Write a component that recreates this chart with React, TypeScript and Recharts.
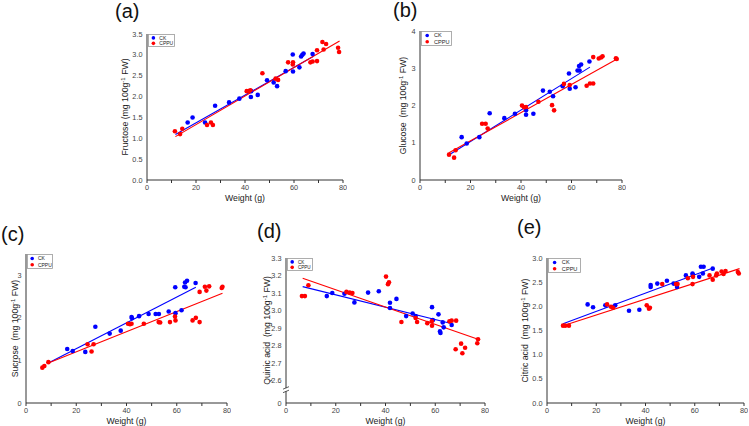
import { ScatterChart, Scatter, XAxis, YAxis, ReferenceLine, ReferenceDot } from "recharts";

type Pt = [number, number];

// weight (g) vs content
const fructoseCK: Pt[] = [
  [16.6, 1.38], [18.6, 1.5], [23.7, 1.38], [27.8, 1.78], [33.5, 1.86], [37.7, 1.95], [42.4, 1.99], [42.5, 2.13],
  [45.2, 2.04], [49.0, 2.39], [51.7, 2.34], [53.1, 2.25], [56.6, 2.61], [59.5, 3.01], [59.6, 2.6], [62.2, 2.7],
  [62.9, 2.96], [63.4, 3.0], [63.9, 3.03], [67.6, 3.02],
];
const fructoseCPPU: Pt[] = [
  [11.4, 1.17], [13.5, 1.1], [14.4, 1.23], [24.5, 1.32], [26.1, 1.38], [26.9, 1.32], [40.7, 2.13], [41.6, 2.13],
  [42.2, 2.15], [47.1, 2.56], [52.5, 2.43], [53.5, 2.4], [57.6, 2.82], [59.5, 2.77], [59.6, 2.82], [66.7, 2.82],
  [67.6, 2.84], [69.4, 2.85], [69.4, 3.11], [71.6, 3.31], [72.1, 3.13], [73.1, 3.26], [78.0, 3.17], [78.4, 3.07],
];
const fructoseFitCK: Pt[] = [[11.6, 1.09], [67.8, 2.96]];
const fructoseFitCPPU: Pt[] = [[11.6, 1.04], [78.6, 3.33]];

const glucoseCK: Pt[] = [
  [16.5, 1.15], [18.5, 0.98], [23.5, 1.15], [27.6, 1.79], [33.4, 1.66], [37.6, 1.78], [42.0, 1.87], [42.0, 1.75],
  [44.9, 1.78], [48.7, 2.4], [51.4, 2.37], [52.7, 2.25], [56.5, 2.52], [59.0, 2.86], [59.3, 2.45], [61.6, 2.49],
  [62.4, 2.94], [63.0, 3.06], [63.2, 2.94], [63.8, 3.1], [67.1, 3.18],
];
const glucoseCPPU: Pt[] = [
  [11.5, 0.68], [13.5, 0.6], [14.1, 0.8], [24.6, 1.51], [26.0, 1.51], [26.8, 1.38], [40.4, 2.0], [41.2, 1.95],
  [42.0, 1.96], [46.9, 2.1], [52.3, 2.01], [53.1, 1.87], [57.0, 2.58], [59.3, 2.55], [66.0, 2.53], [67.3, 2.59],
  [68.6, 2.59], [68.6, 3.3], [70.8, 3.26], [71.7, 3.29], [72.3, 3.32], [77.6, 3.27], [77.9, 3.25],
];
const glucoseFitCK: Pt[] = [[11.9, 0.69], [67.3, 3.03]];
const glucoseFitCPPU: Pt[] = [[11.5, 0.73], [78.4, 3.26]];

const sucroseCK: Pt[] = [
  [16.4, 1.27], [18.6, 1.22], [23.6, 1.2], [27.6, 1.79], [33.3, 1.63], [37.7, 1.7], [42.0, 2.02], [42.2, 1.99],
  [45.0, 2.04], [48.8, 2.09], [51.6, 2.09], [52.9, 2.09], [56.8, 2.15], [59.4, 2.72], [59.5, 2.11], [61.9, 2.18],
  [63.0, 2.73], [63.3, 2.83], [63.5, 2.72], [64.1, 2.87], [67.5, 2.82],
];
const sucroseCPPU: Pt[] = [
  [6.5, 0.83], [7.3, 0.87], [8.9, 0.96], [24.5, 1.38], [26.1, 1.21], [26.9, 1.38], [40.6, 1.86], [41.4, 1.85],
  [42.0, 1.86], [46.9, 1.86], [52.8, 1.9], [53.4, 1.89], [57.3, 1.9], [59.3, 2.03], [59.5, 1.94], [66.3, 1.94],
  [67.6, 2.0], [69.1, 1.9], [69.1, 2.61], [71.2, 2.73], [71.8, 2.64], [72.9, 2.74], [77.9, 2.7], [78.2, 2.73],
];
const sucroseFitCK: Pt[] = [[8.9, 0.94], [67.6, 2.72]];
const sucroseFitCPPU: Pt[] = [[8.9, 0.94], [78.2, 2.58]];

const quinicCK: Pt[] = [
  [16.4, 3.083], [18.6, 3.101], [23.5, 3.096], [27.5, 3.047], [33.0, 3.103], [37.3, 3.111], [41.8, 3.045],
  [41.8, 3.015], [44.4, 3.067], [48.3, 2.969], [50.9, 2.984], [52.1, 2.969], [58.7, 3.02], [59.0, 2.946],
  [61.3, 2.979], [61.9, 2.882], [62.1, 2.873], [63.0, 2.933], [63.4, 2.905], [66.6, 2.918],
];
const quinicCPPU: Pt[] = [
  [6.4, 3.083], [7.6, 3.083], [9.0, 3.145], [24.3, 3.107], [25.6, 3.103], [26.7, 3.101], [40.2, 3.194],
  [41.0, 3.151], [41.4, 3.162], [46.4, 2.935], [52.1, 2.958], [52.7, 2.935], [56.8, 2.929], [58.6, 2.939],
  [58.7, 2.914], [65.7, 2.939], [66.6, 2.943], [68.4, 2.943], [68.2, 2.78], [70.4, 2.812], [70.9, 2.757],
  [72.0, 2.789], [76.9, 2.814], [77.2, 2.837],
];
const quinicFitCK: Pt[] = [[6.7, 3.137], [66.0, 2.928]];
const quinicFitCPPU: Pt[] = [[6.7, 3.185], [77.2, 2.837]];

const citricCK: Pt[] = [
  [16.5, 2.04], [18.7, 1.98], [23.7, 2.02], [27.7, 2.02], [33.3, 1.91], [37.5, 1.93], [42.1, 2.44], [42.1, 2.4],
  [44.8, 2.47], [48.7, 2.53], [51.4, 2.47], [52.8, 2.4], [56.4, 2.64], [59.1, 2.68], [59.2, 2.65], [61.8, 2.61],
  [62.5, 2.82], [63.3, 2.68], [63.6, 2.82], [67.3, 2.78],
];
const citricCPPU: Pt[] = [
  [6.5, 1.6], [7.4, 1.6], [8.9, 1.6], [24.4, 2.04], [26.0, 1.99], [26.8, 1.97], [40.5, 2.02], [41.4, 1.95],
  [41.8, 1.97], [46.8, 2.46], [52.4, 2.46], [53.0, 2.46], [57.2, 2.58], [59.1, 2.46], [59.3, 2.61], [66.0, 2.64],
  [67.3, 2.55], [68.7, 2.64], [69.0, 2.68], [70.9, 2.72], [71.7, 2.67], [72.5, 2.73], [77.5, 2.71], [77.9, 2.68],
];
const citricFitCK: Pt[] = [[6.5, 1.64], [67.7, 2.8]];
const citricFitCPPU: Pt[] = [[6.5, 1.6], [78.2, 2.78]];

const xMajor = [0, 20, 40, 60, 80];
const xMinor = [10, 30, 50, 70];
const seriesNames = ["CK", "CPPU"];

const FONT = '"Liberation Sans", Arial, Helvetica, sans-serif';
const BLUE = "#0000ff";
const RED = "#ff0000";
const AXIS = "#333";
const TICK_FS = 7.3;

const toPts = (arr: Pt[]) => arr.map(([w, v]) => ({ w, v }));
const dot = (color: string) => (p: any) => <circle cx={p.cx} cy={p.cy} r={2.3} fill={color} />;

function LegendBox({ w, h, fs }: any) {
  const colors = [BLUE, RED];
  return (
    <svg width={w} height={h} style={{ position: "absolute", left: 41, top: 6 }}>
      <rect x={0.5} y={0.5} width={w - 1} height={h - 1} fill="#fff" stroke="#999" strokeWidth={0.8} />
      {seriesNames.map((name, i) => (
        <g key={name}>
          <circle cx={w * 0.2} cy={h * (0.3 + 0.42 * i)} r={1.8} fill={colors[i]} />
          <text x={w * 0.42} y={h * (0.3 + 0.42 * i) + fs * 0.35} fontSize={fs} fontFamily={FONT} fill="#222">
            {name}
          </text>
        </g>
      ))}
    </svg>
  );
}

function Panel({ cfg }: { cfg: any }) {
  const { plot, yDomain, yMajor, yMinor, yFmt, yName, yOff, ck, cppu, fitCK, fitCPPU, legend, brk } = cfg;
  const left = plot.l - 40;
  const top = plot.t - 6;
  const width = plot.r - plot.l + 44;
  const height = plot.b - plot.t + 34;
  const yTicks = [...yMajor, ...yMinor].sort((a: number, b: number) => a - b);

  const xTick = (p: any) => {
    const v = p.payload.value;
    const lbl = xMajor.includes(v) ? String(v) : "";
    return (
      <text x={p.x} y={p.y + 5.5} textAnchor="middle" fontSize={TICK_FS} fontFamily={FONT} fill="#444">
        {lbl}
      </text>
    );
  };

  // y tick labels drawn at each major value through the chart's y scale
  const yTickLabel = (v: number) => (props: any) => {
    const vb = props.viewBox;
    return (
      <text x={vb.x - 4.5} y={vb.y + 2.6} textAnchor="end" fontSize={TICK_FS} fontFamily={FONT} fill="#444">
        {yFmt(v)}
      </text>
    );
  };

  const yLabel = (props: any) => {
    const vb = props.viewBox;
    const cx = vb.x + vb.width - yOff;
    const cy = vb.y + vb.height / 2;
    return (
      <text x={cx} y={cy + 3} transform={`rotate(-90 ${cx} ${cy})`} textAnchor="middle" fontSize={8.7} fontFamily={FONT} fill="#222">
        {yName}(mg 100g
        <tspan dy={-3} fontSize={6}>-1</tspan>
        <tspan dy={3}> FW)</tspan>
      </text>
    );
  };

  const xLabel = (props: any) => {
    const vb = props.viewBox;
    return (
      <text x={vb.x + vb.width / 2} y={vb.y + 21} textAnchor="middle" fontSize={8.7} fontFamily={FONT} fill="#222">
        Weight (g)
      </text>
    );
  };

  return (
    <div style={{ position: "absolute", left, top, width, height }}>
      <ScatterChart width={width} height={height} margin={{ top: 6, right: 4, bottom: 0, left: 0 }}>
        <XAxis
          type="number"
          dataKey="w"
          domain={[0, 80]}
          ticks={[...xMajor, ...xMinor].sort((a, b) => a - b)}
          interval={0}
          height={28}
          tickSize={3}
          tickMargin={1.5}
          stroke={AXIS}
          tick={xTick}
          label={xLabel}
        />
        <YAxis
          type="number"
          dataKey="v"
          domain={yDomain}
          allowDataOverflow
          ticks={yTicks}
          interval={0}
          width={40}
          tickSize={3}
          tickMargin={1.5}
          stroke={AXIS}
          tick={false}
          label={yLabel}
        />
        {yMajor.map((v: number) => (
          <ReferenceLine key={`t${v}`} y={v} stroke="none" ifOverflow="visible" label={yTickLabel(v)} />
        ))}
        <ReferenceLine segment={fitCK.map(([x, y]: Pt) => ({ x, y }))} stroke={BLUE} strokeWidth={1.1} ifOverflow="visible" />
        <ReferenceLine segment={fitCPPU.map(([x, y]: Pt) => ({ x, y }))} stroke={RED} strokeWidth={1.1} ifOverflow="visible" />
        {brk != null && (
          <ReferenceDot
            x={0}
            y={brk}
            ifOverflow="visible"
            shape={(p: any) => (
              <g>
                <rect x={p.cx - 3} y={p.cy - 1.5} width={6} height={3} fill="#fff" />
                <line x1={p.cx - 3} y1={p.cy - 0.5} x2={p.cx + 3} y2={p.cy - 3} stroke={AXIS} strokeWidth={0.8} />
                <line x1={p.cx - 3} y1={p.cy + 3} x2={p.cx + 3} y2={p.cy + 0.5} stroke={AXIS} strokeWidth={0.8} />
              </g>
            )}
          />
        )}
        <Scatter name={seriesNames[0]} data={toPts(ck)} fill={BLUE} shape={dot(BLUE)} isAnimationActive={false} />
        <Scatter name={seriesNames[1]} data={toPts(cppu)} fill={RED} shape={dot(RED)} isAnimationActive={false} />
      </ScatterChart>
      <LegendBox w={legend.w} h={legend.h} fs={legend.fs} />
    </div>
  );
}

const one = (v: number) => v.toFixed(1);
const int = (v: number) => String(v);

const panels = [
  {
    plot: { l: 147, t: 34, r: 343, b: 180 },
    yDomain: [0, 3.5],
    yMajor: [0, 0.5, 1, 1.5, 2, 2.5, 3, 3.5],
    yMinor: [],
    yFmt: one,
    yName: "Fructose ",
    yOff: 22,
    ck: fructoseCK,
    cppu: fructoseCPPU,
    fitCK: fructoseFitCK,
    fitCPPU: fructoseFitCPPU,
    legend: { w: 27, h: 13, fs: 5 },
  },
  {
    plot: { l: 420, t: 31, r: 622, b: 180 },
    yDomain: [0, 4],
    yMajor: [0, 1, 2, 3, 4],
    yMinor: [0.5, 1.5, 2.5, 3.5],
    yFmt: int,
    yName: "Glucose\u00a0 ",
    yOff: 17,
    ck: glucoseCK,
    cppu: glucoseCPPU,
    fitCK: glucoseFitCK,
    fitCPPU: glucoseFitCPPU,
    legend: { w: 31, h: 15, fs: 5.6 },
  },
  {
    plot: { l: 26, t: 254, r: 227, b: 403 },
    yDomain: [0, 3.5],
    yMajor: [0, 1, 2, 3],
    yMinor: [0.5, 1.5, 2.5, 3.5],
    yFmt: int,
    yName: "Sucrose\u00a0 ",
    yOff: 11,
    ck: sucroseCK,
    cppu: sucroseCPPU,
    fitCK: sucroseFitCK,
    fitCPPU: sucroseFitCPPU,
    legend: { w: 26, h: 15, fs: 5 },
  },
  {
    plot: { l: 286, t: 258, r: 485, b: 403 },
    yDomain: [2.474, 3.3],
    yMajor: [2.474, 2.6, 2.7, 2.8, 2.9, 3.0, 3.1, 3.2, 3.3],
    yMinor: [],
    yFmt: (v: number) => (v < 2.5 ? "0" : v.toFixed(1)),
    yName: "Quinic acid\u00a0 ",
    yOff: 19.5,
    ck: quinicCK,
    cppu: quinicCPPU,
    fitCK: quinicFitCK,
    fitCPPU: quinicFitCPPU,
    legend: { w: 26, h: 13, fs: 4.6 },
    brk: 2.55,
  },
  {
    plot: { l: 547, t: 258, r: 744, b: 403 },
    yDomain: [0, 3],
    yMajor: [0, 0.5, 1, 1.5, 2, 2.5, 3],
    yMinor: [],
    yFmt: one,
    yName: "Citric acid\u00a0 ",
    yOff: 22,
    ck: citricCK,
    cppu: citricCPPU,
    fitCK: citricFitCK,
    fitCPPU: citricFitCPPU,
    legend: { w: 33, h: 15, fs: 5.6 },
  },
];

const titles = [
  { t: "(a)", x: 115, y: 0 },
  { t: "(b)", x: 393, y: -1 },
  { t: "(c)", x: 1, y: 223 },
  { t: "(d)", x: 257, y: 220 },
  { t: "(e)", x: 517, y: 216 },
];

export default function App() {
  return (
    <div style={{ position: "absolute", left: 0, top: 0, width: 749, height: 426, background: "#fff" }}>
      {panels.map((cfg, i) => (
        <Panel key={i} cfg={cfg} />
      ))}
      {titles.map((d) => (
        <div
          key={d.t}
          style={{ position: "absolute", left: d.x, top: d.y, fontSize: 20, lineHeight: "22px", fontFamily: FONT, color: "#111" }}
        >
          {d.t}
        </div>
      ))}
    </div>
  );
}
